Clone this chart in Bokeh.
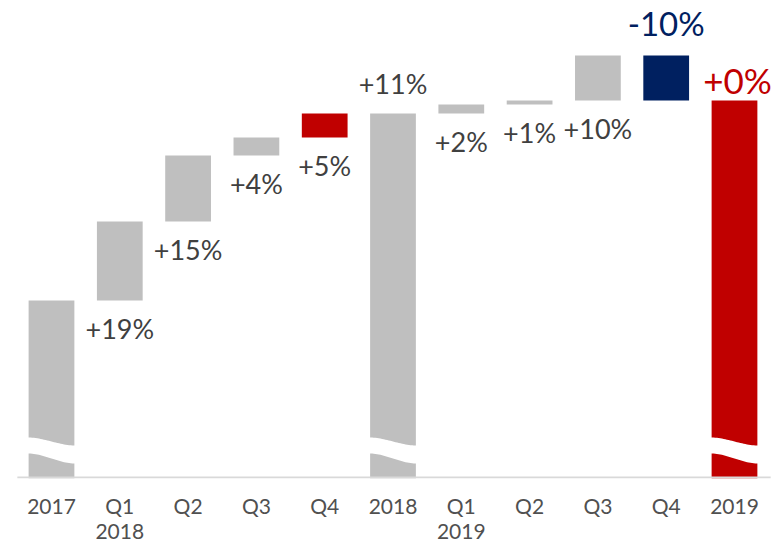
import numpy as np
from bokeh.plotting import figure
from bokeh.models import Range1d, ColumnDataSource, FixedTicker, LabelSet, LinearAxis
from bokeh.core.properties import value
from bokeh.embed import file_html
from bokeh.resources import INLINE

# ---- data (index units; axis is broken near the base) ----
tick_line1 = ["2017", "Q1", "Q2", "Q3", "Q4", "2018", "Q1", "Q2", "Q3", "Q4", "2019"]
tick_line2 = ["", "2018", "", "", "", "", "2019", "", "", "", ""]
kinds = ["total", "step", "step", "step", "step", "total", "step", "step", "step", "step", "total"]
amounts = [178, 79, 66, 18, 24, 365, 9, 4, 45, -45, 378]
pct_labels = ["", "+19%", "+15%", "+4%", "+5%", "+11%", "+2%", "+1%", "+10%", "-10%", "+0%"]
bar_colors = ["#BFBFBF", "#BFBFBF", "#BFBFBF", "#BFBFBF", "#C00000",
              "#BFBFBF", "#BFBFBF", "#BFBFBF", "#BFBFBF", "#002060", "#C00000"]

FONT = "Lato"
GREY_TXT = "#404040"
TICK_TXT = "#505050"

n = len(tick_line1)
xs = np.arange(n)
bottoms, tops = [], []
running = 0
for k, a in zip(kinds, amounts):
    if k == "total":
        bottoms.append(0)
        tops.append(a)
        running = a
    else:
        nxt = running + a
        bottoms.append(min(running, nxt))
        tops.append(max(running, nxt))
        running = nxt

p = figure(width=776, height=545, output_backend="svg", toolbar_location=None,
           x_range=Range1d(-0.7467, 10.615), y_range=Range1d(0, 478),
           min_border_left=0, min_border_right=0, min_border_top=0, min_border_bottom=67,
           background_fill_color="white", border_fill_color="white", outline_line_color=None)

bw = 0.67
src = ColumnDataSource(dict(x=xs, bottom=bottoms, top=tops, color=bar_colors))
p.vbar(x="x", width=bw, bottom="bottom", top="top", fill_color="color", line_color=None, source=src)

# axis break (white wavy band) on the total bars
t = np.linspace(0, 1, 30)
s = (1 - np.cos(np.pi * t)) / 2
bx, by = [], []
for i, k in enumerate(kinds):
    if k != "total":
        continue
    xl = xs[i] - bw / 2 - 0.02
    xr = xs[i] + bw / 2 + 0.02
    xx = xl + (xr - xl) * t
    top_edge = 41 - 8 * s
    bot_edge = 25 - 10 * s
    bx.append(list(xx) + list(xx[::-1]))
    by.append(list(top_edge) + list(bot_edge[::-1]))
p.patches(bx, by, fill_color="white", line_color=None)

# baseline
p.segment(x0=[-0.5], y0=[1], x1=[n - 0.47], y1=[1], line_color="#D9D9D9", line_width=2)

# value labels
below_x, below_y, below_t = [], [], []
for i, k in enumerate(kinds):
    if k == "step" and amounts[i] > 0:
        below_x.append(xs[i]); below_y.append(bottoms[i]); below_t.append(pct_labels[i])
p.add_layout(LabelSet(x="x", y="y", text="t",
                      source=ColumnDataSource(dict(x=below_x, y=below_y, t=below_t)),
                      y_offset=-28, text_align="center", text_baseline="middle",
                      text_font=value(FONT), text_font_size="27px", text_color=GREY_TXT))

i18 = 5
p.add_layout(LabelSet(x="x", y="y", text="t",
                      source=ColumnDataSource(dict(x=[xs[i18]], y=[tops[i18]], t=[pct_labels[i18]])),
                      y_offset=30, text_align="center", text_baseline="middle",
                      text_font=value(FONT), text_font_size="27px", text_color=GREY_TXT))

i_neg = 9
p.add_layout(LabelSet(x="x", y="y", text="t",
                      source=ColumnDataSource(dict(x=[xs[i_neg]], y=[tops[i_neg]], t=[pct_labels[i_neg]])),
                      y_offset=33, text_align="center", text_baseline="middle",
                      text_font=value(FONT), text_font_size="33px", text_color="#002060"))

i19 = 10
p.add_layout(LabelSet(x="x", y="y", text="t",
                      source=ColumnDataSource(dict(x=[xs[i19]], y=[tops[i19]], t=[pct_labels[i19]])),
                      x_offset=3, y_offset=21, text_align="center", text_baseline="middle",
                      text_font=value(FONT), text_font_size="35px", text_color="#C00000"))

# axes
p.yaxis.visible = False
p.xgrid.visible = False
p.ygrid.visible = False


def style_axis(ax, standoff):
    ax.axis_line_color = None
    ax.major_tick_line_color = None
    ax.minor_tick_line_color = None
    ax.major_tick_out = 0
    ax.major_tick_in = 0
    ax.minor_tick_out = 0
    ax.major_label_standoff = standoff
    ax.major_label_text_font = FONT
    ax.major_label_text_font_size = "21px"
    ax.major_label_text_color = TICK_TXT


xa = p.xaxis[0]
xa.ticker = FixedTicker(ticks=list(range(n)))
xa.major_label_overrides = {i: c for i, c in enumerate(tick_line1)}
style_axis(xa, 14)

# second line of the category labels (year under Q1)
l2 = [i for i in range(n) if tick_line2[i]]
xa2 = LinearAxis(ticker=FixedTicker(ticks=l2),
                 major_label_overrides={i: tick_line2[i] for i in l2})
style_axis(xa2, 3)
p.add_layout(xa2, "below")

open("out.html", "w").write(file_html(p, INLINE))
